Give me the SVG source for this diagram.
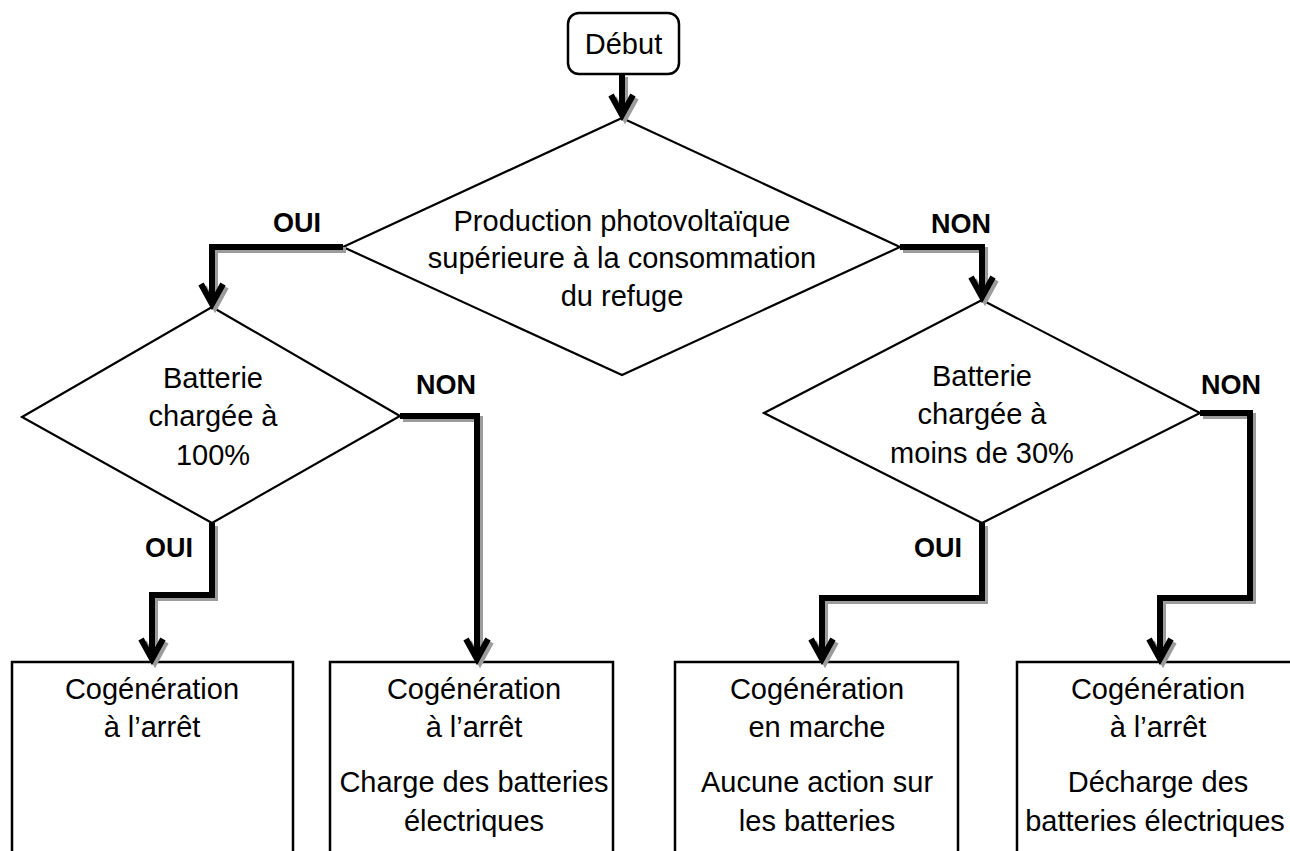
<svg xmlns="http://www.w3.org/2000/svg" xmlns:xlink="http://www.w3.org/1999/xlink" width="1290" height="851" viewBox="0 0 1290 851">
<style>
  .shape { fill: #fff; stroke: #000; stroke-width: 2.2; }
  .box { fill: #fff; stroke: #000; stroke-width: 2.5; }
  .t { font-family: "Liberation Sans", Arial, sans-serif; font-size: 29px; fill: #000; text-anchor: middle; }
  .lbl { font-family: "Liberation Sans", Arial, sans-serif; font-size: 27px; font-weight: bold; fill: #000; text-anchor: middle; }
  .sh { fill: none; stroke: #9c9c9c; stroke-width: 6; stroke-linejoin: miter; }
  .ln { fill: none; stroke: #000; stroke-width: 6; stroke-linejoin: miter; }
</style>
<defs>
  <path id="c1" d="M622,74 V115 M611,95 L622,115 L633,95"/>
  <path id="c2" d="M343,247 H212 V304 M201,284 L212,304 L223,284"/>
  <path id="c3" d="M900,247 H982 V297 M971,277 L982,297 L993,277"/>
  <path id="c4" d="M400,416 H477 V659 M466,639 L477,659 L488,639"/>
  <path id="c5" d="M212,523 V595 H152 V659 M141,639 L152,659 L163,639"/>
  <path id="c6" d="M982,523 V598 H822 V659 M811,639 L822,659 L833,639"/>
  <path id="c7" d="M1200,413 H1250 V598 H1160 V659 M1149,639 L1160,659 L1171,639"/>
</defs>

<g id="n-debut">
  <rect class="box" x="568" y="13" width="111" height="61" rx="11"/>
  <text class="t" x="623.5" y="54">Début</text>
</g>

<g id="n-decision-main">
  <polygon class="shape" points="622,118 900,247 622,375 343,247"/>
  <text class="t" x="622" y="231">Production photovoltaïque</text>
  <text class="t" x="622" y="268">supérieure à la consommation</text>
  <text class="t" x="622" y="306">du refuge</text>
</g>

<g id="n-decision-left">
  <polygon class="shape" points="212,307 400,416 212,523 22,417"/>
  <text class="t" x="213" y="388">Batterie</text>
  <text class="t" x="213" y="426">chargée à</text>
  <text class="t" x="213" y="465">100%</text>
</g>

<g id="n-decision-right">
  <polygon class="shape" points="982,300 1200,413 982,523 764,413"/>
  <text class="t" x="982" y="386">Batterie</text>
  <text class="t" x="982" y="424">chargée à</text>
  <text class="t" x="982" y="463">moins de 30%</text>
</g>

<g id="n-box1">
  <rect class="box" x="12" y="662" width="281" height="200"/>
  <text class="t" x="152" y="699">Cogénération</text>
  <text class="t" x="152" y="737">à l’arrêt</text>
</g>

<g id="n-box2">
  <rect class="box" x="330" y="662" width="283" height="200"/>
  <text class="t" x="474" y="699">Cogénération</text>
  <text class="t" x="474" y="737">à l’arrêt</text>
  <text class="t" x="474" y="792">Charge des batteries</text>
  <text class="t" x="474" y="831">électriques</text>
</g>

<g id="n-box3">
  <rect class="box" x="675" y="662" width="283" height="200"/>
  <text class="t" x="817" y="699">Cogénération</text>
  <text class="t" x="817" y="737">en marche</text>
  <text class="t" x="817" y="792">Aucune action sur</text>
  <text class="t" x="817" y="831">les batteries</text>
</g>

<g id="n-box4">
  <rect class="box" x="1017" y="662" width="300" height="200"/>
  <text class="t" x="1158" y="699">Cogénération</text>
  <text class="t" x="1158" y="737">à l’arrêt</text>
  <text class="t" x="1158" y="792">Décharge des</text>
  <text class="t" x="1155" y="831">batteries électriques</text>
</g>

<g id="connectors">
  <g class="sh" transform="translate(3,3)">
    <use xlink:href="#c1"/><use xlink:href="#c2"/><use xlink:href="#c3"/><use xlink:href="#c4"/>
    <use xlink:href="#c5"/><use xlink:href="#c6"/><use xlink:href="#c7"/>
  </g>
  <g class="ln">
    <use xlink:href="#c1"/><use xlink:href="#c2"/><use xlink:href="#c3"/><use xlink:href="#c4"/>
    <use xlink:href="#c5"/><use xlink:href="#c6"/><use xlink:href="#c7"/>
  </g>
  <text class="lbl" x="297" y="232">OUI</text>
  <text class="lbl" x="961" y="233">NON</text>
  <text class="lbl" x="446" y="394">NON</text>
  <text class="lbl" x="1231" y="394">NON</text>
  <text class="lbl" x="169" y="557">OUI</text>
  <text class="lbl" x="938" y="557">OUI</text>
</g>
</svg>
